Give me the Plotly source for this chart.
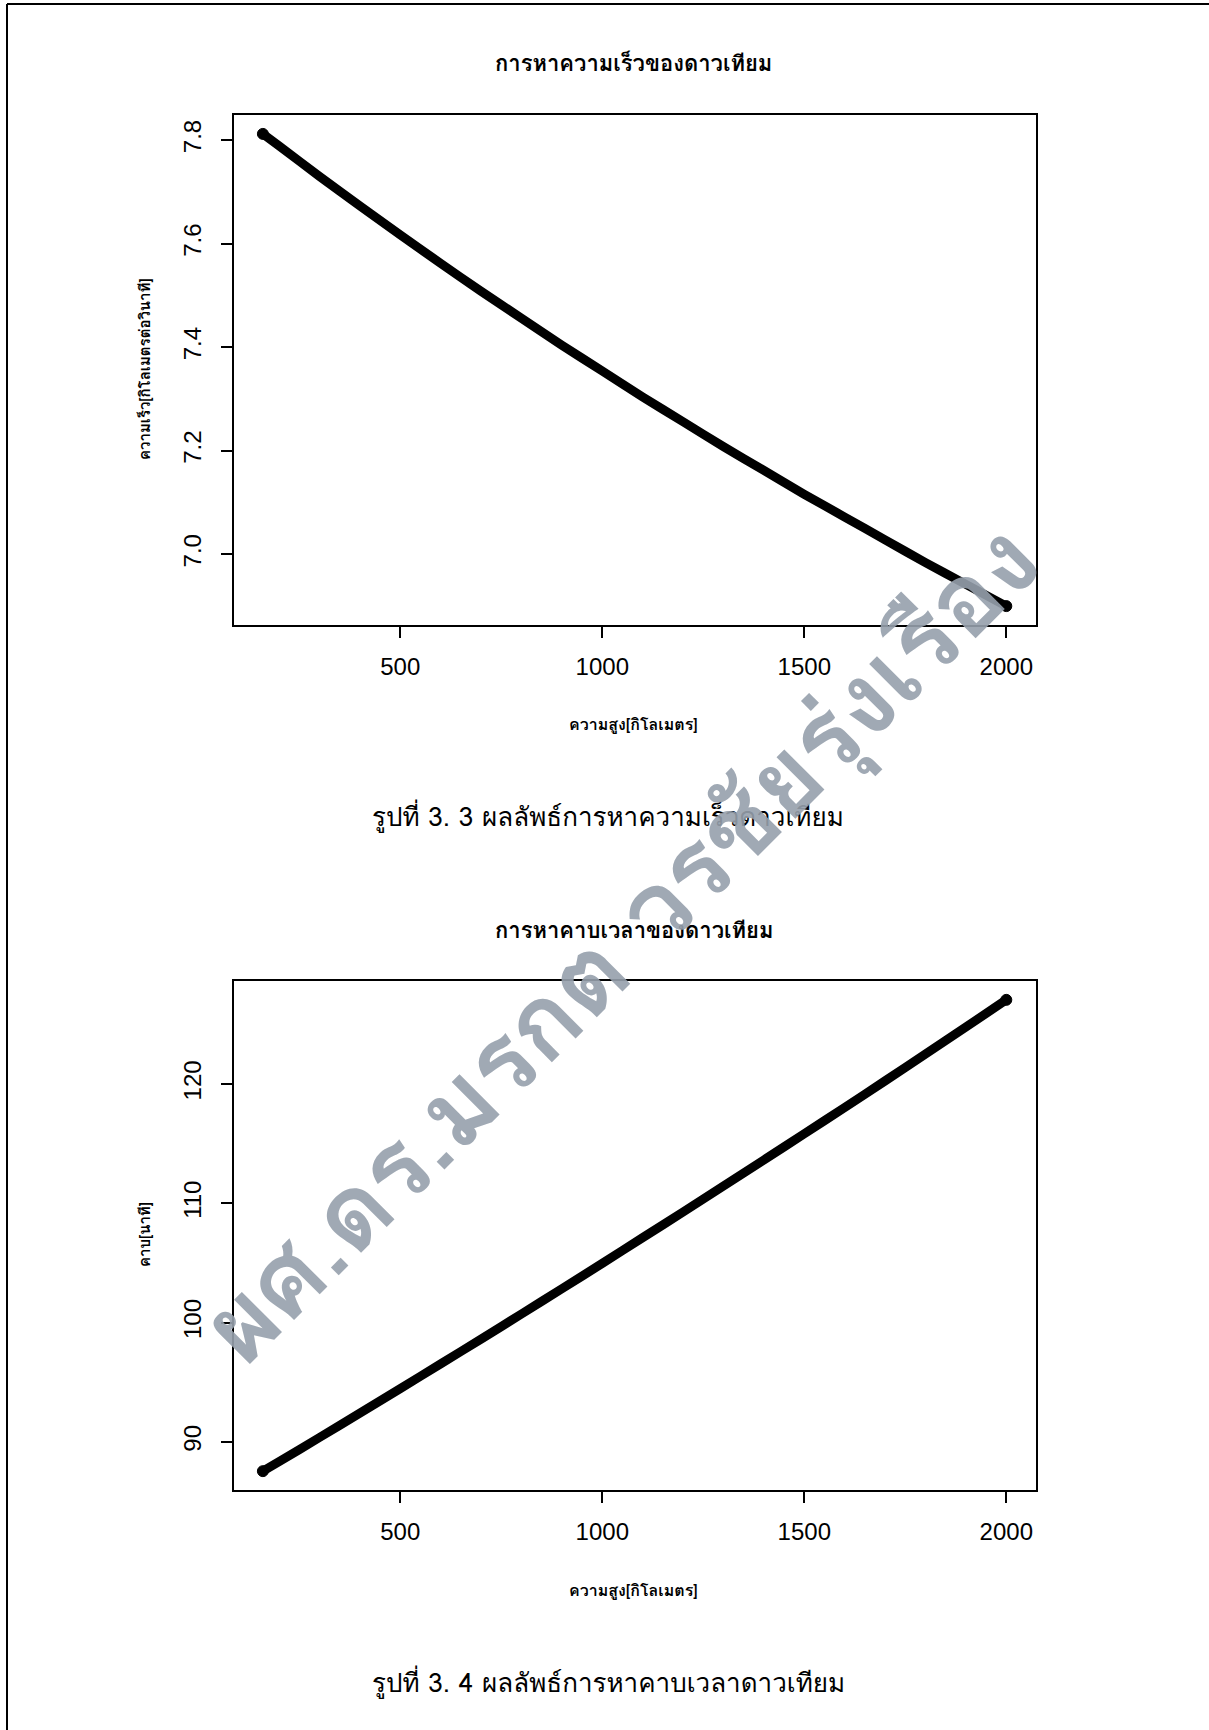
import plotly.graph_objects as go

# Data
altitude_km = [160, 200, 300, 400, 500, 600, 700, 800, 900, 1000,
               1100, 1200, 1300, 1400, 1500, 1600, 1700, 1800, 1900, 2000]
speed_kms = [7.812, 7.789, 7.730, 7.673, 7.617, 7.562, 7.508, 7.456, 7.404, 7.354,
             7.304, 7.256, 7.208, 7.162, 7.116, 7.072, 7.028, 6.984, 6.942, 6.900]
period_min = [87.55, 88.34, 90.37, 92.41, 94.47, 96.54, 98.62, 100.72, 102.84, 104.96,
              107.12, 109.27, 111.45, 113.63, 115.83, 118.03, 120.26, 122.52, 124.77, 127.05]

x_ticks = [500, 1000, 1500, 2000]
speed_ticks = [7.0, 7.2, 7.4, 7.6, 7.8]
speed_tick_text = ["7.0", "7.2", "7.4", "7.6", "7.8"]
period_ticks = [90, 100, 110, 120]

title1 = "การหาความเร็วของดาวเทียม"
title2 = "การหาคาบเวลาของดาวเทียม"
xlabel = "ความสูง[กิโลเมตร]"
ylabel1 = "ความเร็ว[กิโลเมตรต่อวินาที]"
ylabel2 = "คาบ[นาที]"
caption1 = "รูปที่ 3. 3 ผลลัพธ์การหาความเร็วดาวเทียม"
caption2 = "รูปที่ 3. 4 ผลลัพธ์การหาคาบเวลาดาวเทียม"
watermark = "ผศ.ดร.มรกต วรชัยรุ่งเรือง"

W, H = 1209, 1730
THAI = "Tahoma, Loma, Garuda, Noto Sans Thai Looped, Noto Sans Thai, sans-serif"
TICKF = "Liberation Sans, Arial, sans-serif"

def px(x):
    return x / W

def py(y):
    return 1 - y / H

n = len(altitude_km)
end_sizes = [11] + [0] * (n - 2) + [11]

fig = go.Figure()
for ax, yv in (("", speed_kms), ("2", period_min)):
    fig.add_trace(go.Scatter(
        x=altitude_km, y=yv, xaxis="x" + ax, yaxis="y" + ax,
        mode="lines+markers",
        line=dict(color="black", width=9, shape="spline", smoothing=0.6),
        marker=dict(color="black", size=end_sizes, symbol="circle",
                    line=dict(width=1, color="black"), opacity=1),
        showlegend=False, hoverinfo="skip"))

axis_common = dict(
    showline=True, mirror=True, linecolor="black", linewidth=1.5,
    ticks="outside", ticklen=11, tickwidth=1.5, tickcolor="black",
    showgrid=False, zeroline=False,
    tickfont=dict(family=TICKF, size=24, color="black"),
)

xr = [88.5, 2073.5]
fig.update_layout(
    width=W, height=H, margin=dict(l=0, r=0, t=0, b=0),
    paper_bgcolor="white", plot_bgcolor="white",
    xaxis=dict(domain=[px(234), px(1036)], range=xr, tickvals=x_ticks, anchor="y",
               ticklabelstandoff=8, **axis_common),
    yaxis=dict(domain=[py(625), py(115)], range=[6.8635, 7.8485], tickvals=speed_ticks,
               ticktext=speed_tick_text, tickangle=-90, anchor="x",
               ticklabelstandoff=11, **axis_common),
    xaxis2=dict(domain=[px(234), px(1036)], range=xr, tickvals=x_ticks, anchor="y2",
                ticklabelstandoff=8, **axis_common),
    yaxis2=dict(domain=[py(1490), py(981)], range=[85.97, 128.63], tickvals=period_ticks,
                tickangle=-90, anchor="x2", ticklabelstandoff=11, **axis_common),
)

ann = []
def text(t, x, y, size, bold=False, angle=0, color="black", family=THAI):
    ann.append(dict(text=("<b>%s</b>" % t) if bold else t, x=px(x), y=py(y),
                    xref="paper", yref="paper", showarrow=False, textangle=angle,
                    xanchor="center", yanchor="middle",
                    font=dict(family=family, size=size, color=color)))

text(title1, 634, 64, 22, bold=True)
text(title2, 634, 930, 22, bold=True)
text(xlabel, 634, 724, 16, bold=True)
text(xlabel, 634, 1590, 16, bold=True)
text(ylabel1, 145, 369, 15, bold=True, angle=-90)
text(ylabel2, 145, 1235, 15, bold=True, angle=-90)
text(caption1, 608, 816, 26)
text(caption2, 608, 1682, 26)
text(watermark, 620, 943, 102, bold=True, angle=-45, color="rgba(150,160,172,0.9)")
fig.update_layout(annotations=ann)

fig.update_layout(shapes=[
    dict(type="line", xref="paper", yref="paper", x0=px(7), y0=py(4), x1=1, y1=py(4),
         line=dict(color="black", width=2)),
    dict(type="line", xref="paper", yref="paper", x0=px(7), y0=py(4), x1=px(7), y1=0,
         line=dict(color="black", width=2)),
])

fig.write_html("out.html", config={"displayModeBar": False},
               post_script="document.body.style.margin='0';")
